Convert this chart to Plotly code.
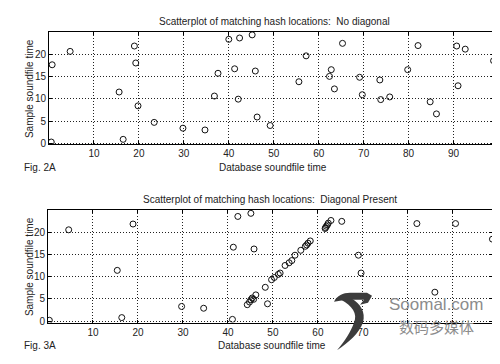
import plotly.graph_objects as go

# Fig. 2A: no diagonal
x_2a = [0.5, 0.7, 4.7, 19.0, 19.3, 15.6, 19.8, 16.5, 23.4, 29.8, 34.7, 36.8, 37.6,
        40.0, 42.4, 45.2, 41.3, 45.9, 42.1, 46.3, 49.2, 55.6, 57.2, 65.3, 62.8,
        62.4, 63.5, 69.1, 69.7, 73.6, 73.8, 75.8, 79.8, 82.1, 84.8, 86.2, 90.7,
        92.6, 91.0, 98.9]
y_2a = [0.3, 17.6, 20.6, 21.8, 18.0, 11.5, 8.4, 0.9, 4.7, 3.4, 3.0, 10.6, 15.7,
        23.3, 23.6, 24.3, 16.7, 16.2, 9.9, 5.9, 4.0, 13.8, 19.6, 22.4, 16.5,
        15.0, 12.2, 14.8, 10.9, 14.2, 9.8, 10.4, 16.5, 21.9, 9.3, 6.6, 21.8,
        21.1, 12.9, 18.5]

# Fig. 3A: diagonal present
x_3a = [0.3, 4.6, 18.9, 15.4, 16.4, 29.7, 34.6, 41.0, 42.2, 45.1, 41.2, 45.8,
        48.8, 65.3, 69.0, 69.6, 82.0, 86.0, 90.6, 98.8,
        44.3, 44.8, 45.1, 45.4, 45.7, 46.2, 48.3, 49.7, 50.3, 51.2, 51.6, 52.7,
        53.6, 54.2, 54.9, 56.2, 57.2, 57.5, 57.8, 58.3, 61.6, 61.7, 61.9, 62.1,
        62.3, 62.9]
y_3a = [0.2, 20.5, 21.8, 11.4, 0.8, 3.3, 2.9, 0.4, 23.5, 24.2, 16.6, 16.2,
        3.9, 22.4, 14.8, 10.8, 21.9, 6.5, 21.9, 18.4,
        3.7, 4.3, 4.8, 5.2, 4.9, 5.9, 7.6, 9.3, 9.8, 10.5, 10.8, 12.5,
        13.1, 13.6, 14.8, 15.9, 16.8, 17.1, 17.5, 18.0, 20.8, 21.0, 21.3, 21.6,
        22.0, 22.6]

x_ticks = [10, 20, 30, 40, 50, 60, 70, 80, 90]
x_labels_2a = ["10", "20", "30", "40", "50", "60", "70", "80", "90"]
x_labels_3a = ["10", "20", "30", "40", "50", "60", "70", "", ""]
y_ticks = [0, 5, 10, 15, 20]
y_labels = ["0", "5", "10", "15", "20"]

FONT = "Liberation Sans, Arial, sans-serif"
W, H = 500, 364

def px(x):
    return x / W

def py(y):
    return 1 - y / H

marker = dict(symbol="circle-open", size=6, color="#111111", line=dict(width=1))

fig = go.Figure()
fig.add_trace(go.Scatter(x=x_2a, y=y_2a, mode="markers", marker=marker,
                         xaxis="x", yaxis="y", showlegend=False))
fig.add_trace(go.Scatter(x=x_3a, y=y_3a, mode="markers", marker=marker,
                         xaxis="x2", yaxis="y2", showlegend=False))

axis_common = dict(showline=True, linecolor="black", linewidth=1, mirror="ticks",
                   ticks="inside", ticklen=3, tickcolor="black",
                   showgrid=True, gridcolor="#222222", griddash="1px,2px", gridwidth=1,
                   zeroline=False, tickfont=dict(family=FONT, size=10, color="#222"))

fig.update_layout(
    width=W, height=H,
    margin=dict(l=0, r=0, t=0, b=0),
    paper_bgcolor="white", plot_bgcolor="white",
    xaxis=dict(axis_common, domain=[px(41), px(486)], range=[0, 99],
               tickvals=x_ticks, ticktext=x_labels_2a, anchor="y"),
    yaxis=dict(axis_common, domain=[py(138), py(24)], range=[-0.25, 25],
               tickvals=y_ticks, ticktext=y_labels, anchor="x"),
    xaxis2=dict(axis_common, domain=[px(40), px(484)], range=[0, 98.7],
                tickvals=x_ticks, ticktext=x_labels_3a, anchor="y2"),
    yaxis2=dict(axis_common, domain=[py(318), py(204)], range=[-0.3, 25],
                tickvals=y_ticks, ticktext=y_labels, anchor="x2"),
)

def note(text, x, y, size=10, xanchor="center", angle=0, color="#222", family=FONT):
    fig.add_annotation(text=text, x=px(x), y=py(y), xref="paper", yref="paper",
                       showarrow=False, xanchor=xanchor, yanchor="middle",
                       textangle=angle, font=dict(family=family, size=size, color=color))

note("Scatterplot of matching hash locations:  No diagonal", 266, 14)
note("Database soundfile time", 265, 161)
note("Fig. 2A", 14, 161, xanchor="left")
note("Sample soundfile time", 21, 82, angle=-90)

note("Scatterplot of matching hash locations:  Diagonal Present", 262, 194)
note("Database soundfile time", 264, 341)
note("Fig. 3A", 14, 341, xanchor="left")
note("Sample soundfile time", 21, 262, angle=-90)

# watermark: S logo drawn as a filled path (pixel coords -> paper)
def pt(x, y):
    return f"{px(x):.5f},{py(y):.5f}"

top_bar = ("M " + pt(326, 297) + " C " + pt(329, 291) + " " + pt(335, 288) + " " + pt(342, 288)
           + " L " + pt(359, 288) + " L " + pt(364, 291) + " L " + pt(360, 298)
           + " L " + pt(352, 300) + " L " + pt(356, 295) + " L " + pt(344, 295)
           + " C " + pt(338, 295) + " " + pt(332, 296) + " " + pt(326, 297) + " Z")
body = ("M " + pt(333, 295) + " C " + pt(344, 301) + " " + pt(350, 309) + " " + pt(346, 318)
        + " C " + pt(343, 327) + " " + pt(337, 337) + " " + pt(329, 346)
        + " C " + pt(341, 338) + " " + pt(351, 329) + " " + pt(355, 318)
        + " C " + pt(358, 307) + " " + pt(352, 299) + " " + pt(344, 294) + " Z")
for p in (top_bar, body):
    fig.add_shape(type="path", path=p, xref="paper", yref="paper",
                  fillcolor="#3c3c3c", line=dict(width=0), layer="above")

note("Soomal.com", 428, 300, size=17, color="#8c8c8c")
note("数码多媒体", 428, 322, size=15, color="#8c8c8c", family="Noto Sans CJK SC")

fig.write_html("out.html")
